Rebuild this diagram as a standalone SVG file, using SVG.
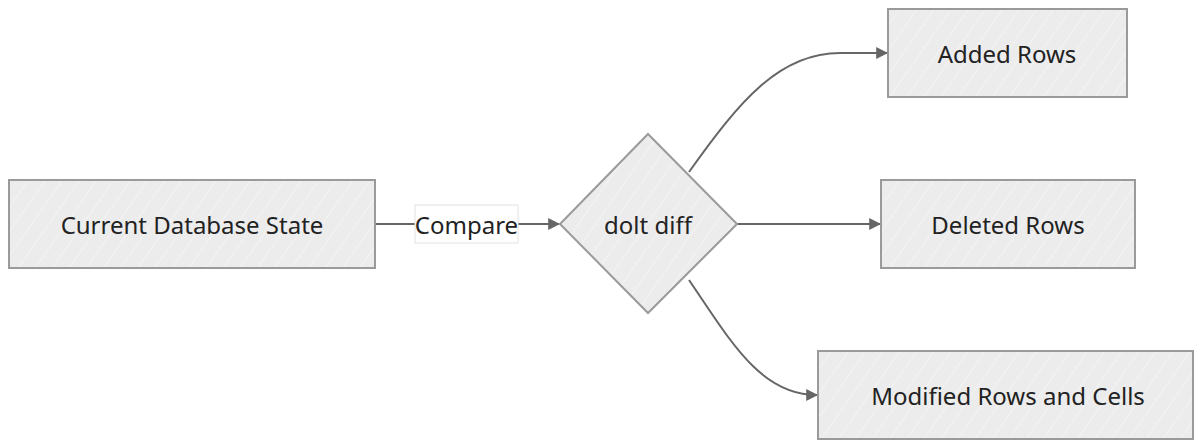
<svg xmlns="http://www.w3.org/2000/svg" width="1194" height="441" viewBox="0 0 1194 441">
  <defs>
    <pattern id="hatch" patternUnits="userSpaceOnUse" width="14" height="14" patternTransform="rotate(35)">
      <rect width="14" height="14" fill="#ececec"/>
      <line x1="0" y1="0" x2="0" y2="14" stroke="#f8f8f8" stroke-width="1.2"/>
    </pattern>
    <marker id="arrow" viewBox="0 0 10 10" refX="9" refY="5" markerWidth="12" markerHeight="12" markerUnits="userSpaceOnUse" orient="auto">
      <path d="M0,0 L10,5 L0,10 Z" fill="#666"/>
    </marker>
  </defs>
  <style>
    .shape { fill: url(#hatch); stroke: #9a9a9a; stroke-width: 2; }
    .label { font-family: "Noto Sans", "Open Sans", sans-serif; font-size: 24px; fill: #222; text-anchor: middle; dominant-baseline: central; }
    .edge { fill: none; stroke: #666; stroke-width: 2; }
  </style>
  <rect width="1194" height="441" fill="#ffffff"/>

  <g id="connectors">
    <path class="edge" d="M375,224 L415,224"/>
    <path class="edge" d="M518,224 L559,224" marker-end="url(#arrow)"/>
    <path class="edge" d="M689,172 C740,100 780,53 840,53 L887,53" marker-end="url(#arrow)"/>
    <path class="edge" d="M737,224 L880,224" marker-end="url(#arrow)"/>
    <path class="edge" d="M689,280 C730,340 760,395 817,395" marker-end="url(#arrow)"/>
    <g id="edge-label-compare">
      <rect x="415" y="205" width="103" height="38" fill="#ffffff" stroke="#e2e2e2" stroke-width="1"/>
      <text class="label" x="466.5" y="224">Compare</text>
    </g>
  </g>

  <g id="node-current">
    <rect class="shape" x="9" y="180" width="366" height="88"/>
    <text class="label" x="192" y="224">Current Database State</text>
  </g>

  <g id="node-diff">
    <polygon class="shape" points="648,134 737,224 648,313 560,224"/>
    <text class="label" x="648" y="224">dolt diff</text>
  </g>

  <g id="node-added">
    <rect class="shape" x="888" y="9" width="239" height="88"/>
    <text class="label" x="1007" y="53">Added Rows</text>
  </g>

  <g id="node-deleted">
    <rect class="shape" x="881" y="180" width="254" height="88"/>
    <text class="label" x="1008" y="224">Deleted Rows</text>
  </g>

  <g id="node-modified">
    <rect class="shape" x="818" y="351" width="375" height="88"/>
    <text class="label" x="1008" y="395">Modified Rows and Cells</text>
  </g>
</svg>
